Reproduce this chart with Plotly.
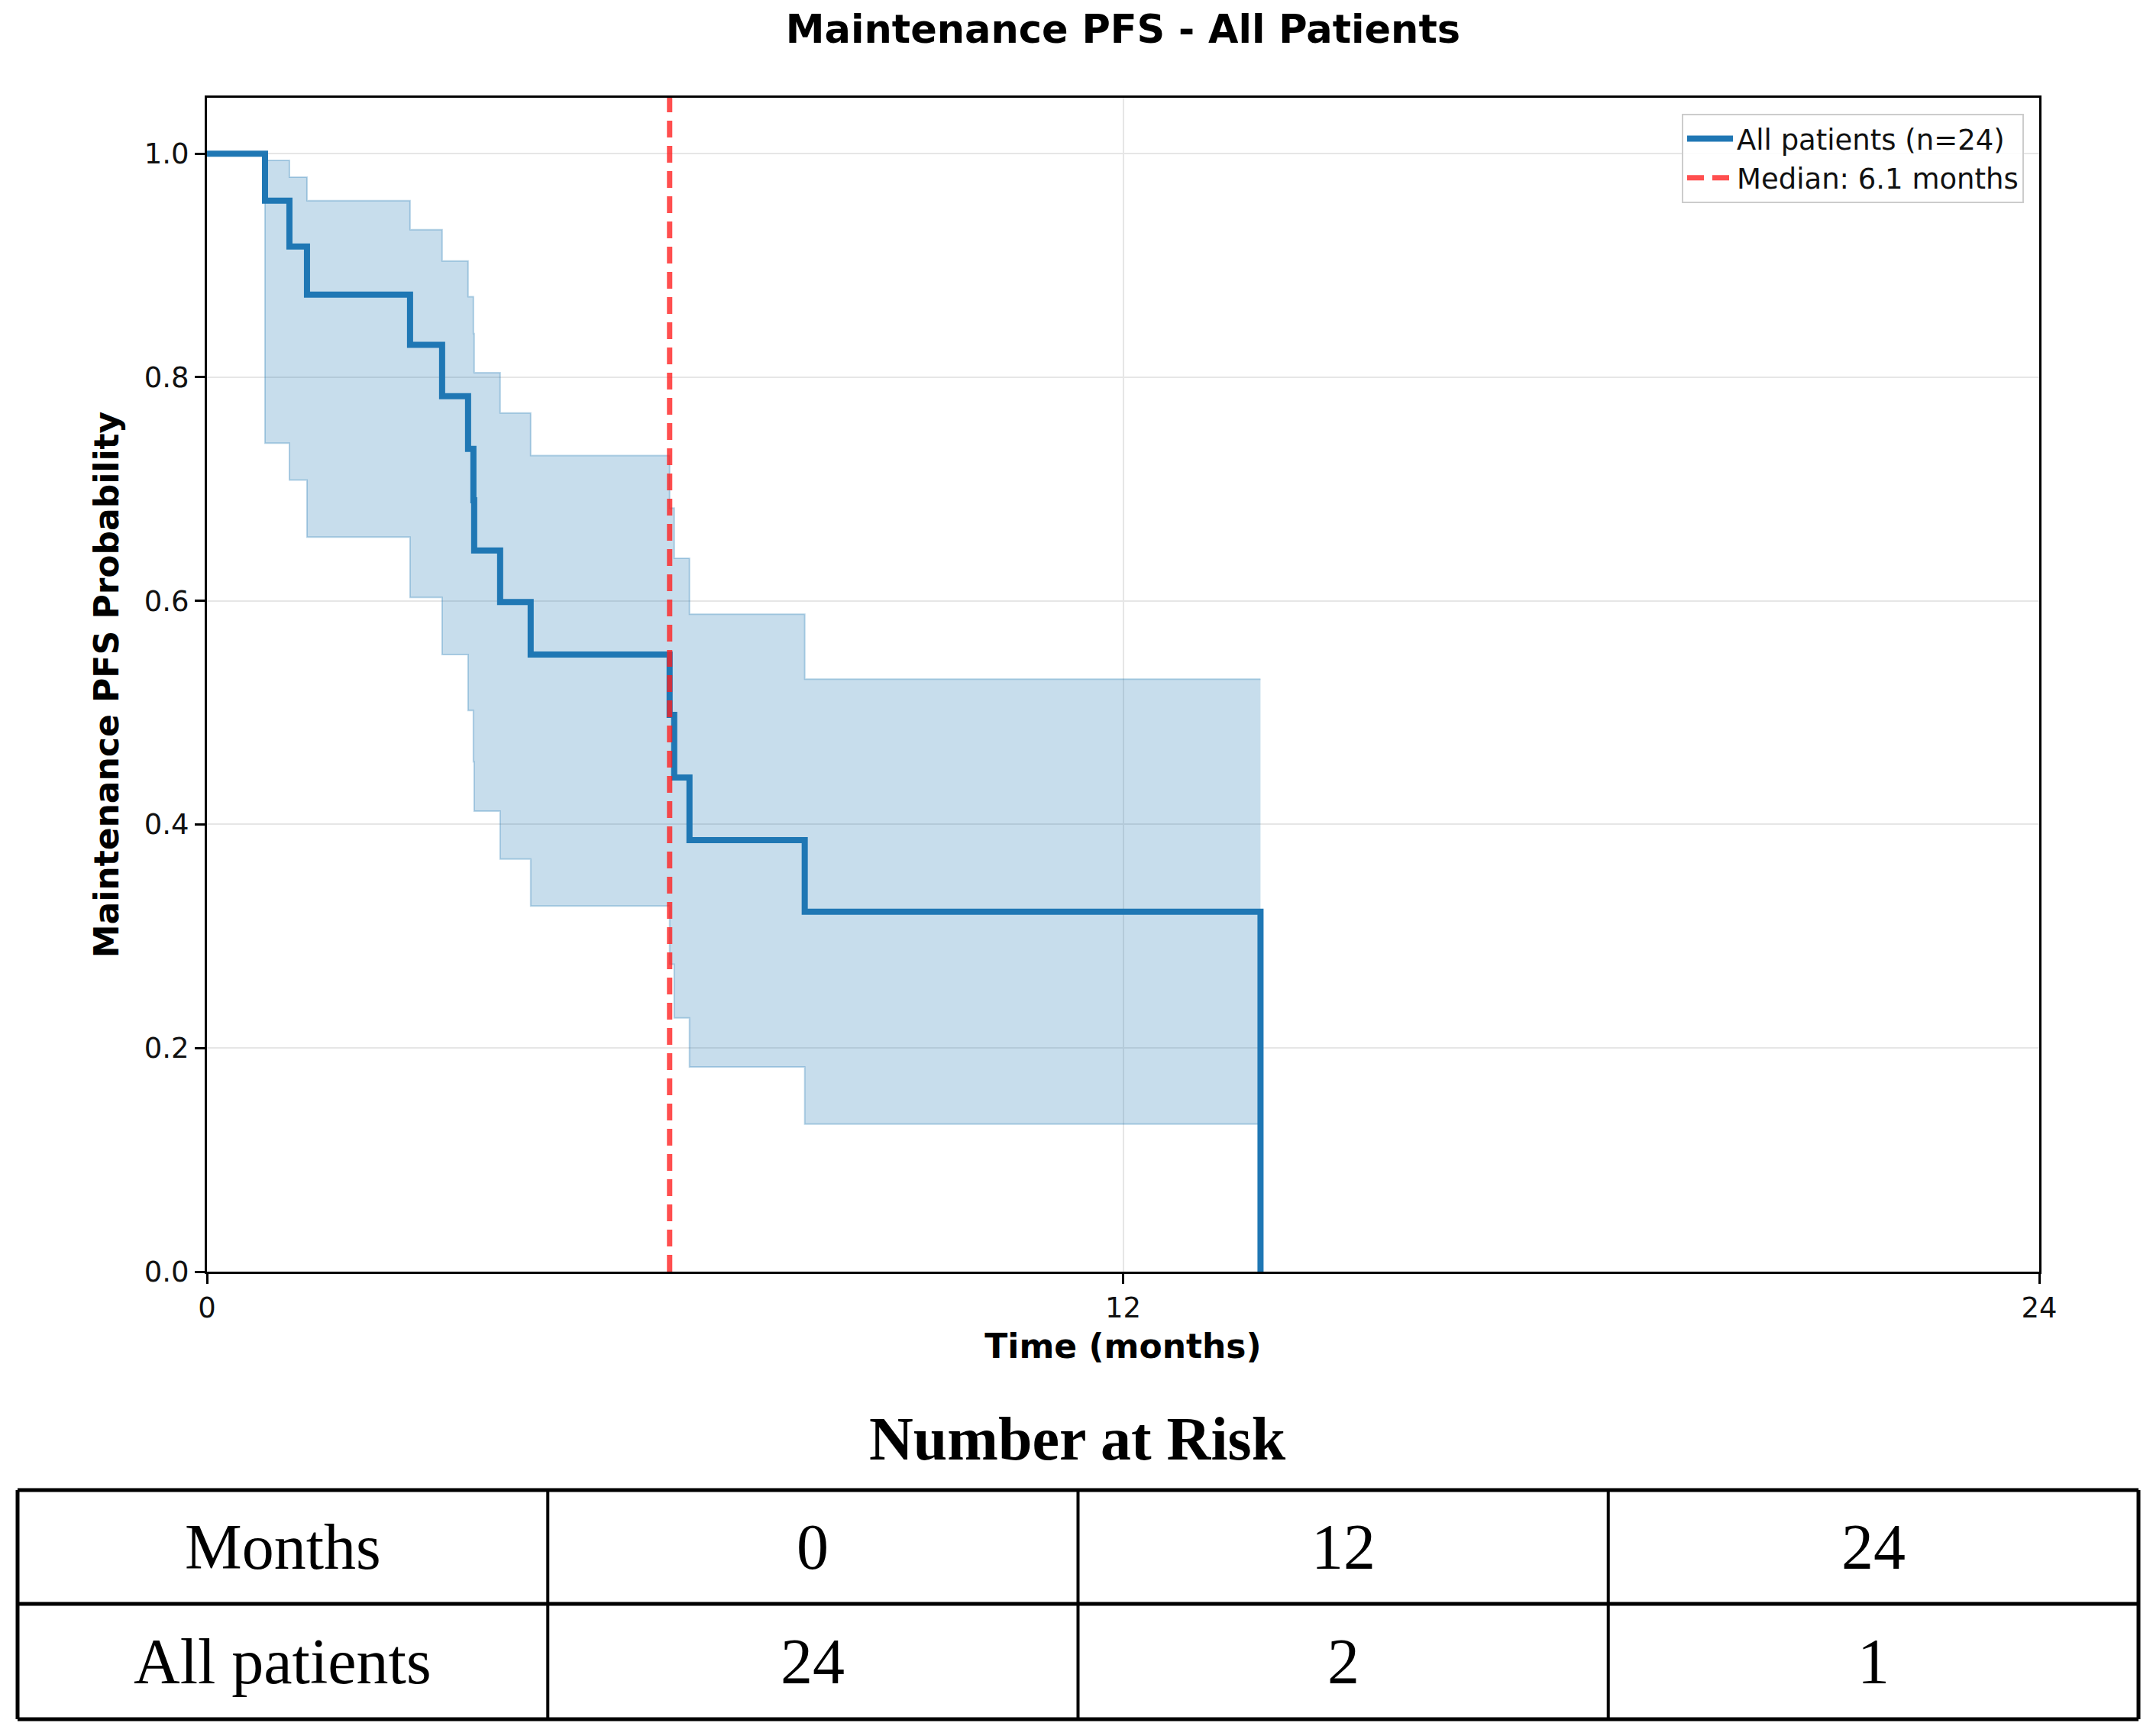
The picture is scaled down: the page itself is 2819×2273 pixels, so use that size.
import plotly.graph_objects as go

# ---------------- data ----------------
times = [0, 0.76, 1.08, 1.31, 2.66, 3.08, 3.42, 3.49, 3.50, 3.84, 4.24, 6.06, 6.12, 6.32, 7.83, 13.8]
survival = [1.0, 0.958, 0.917, 0.874, 0.829, 0.783, 0.736, 0.690, 0.645, 0.599, 0.552, 0.498, 0.442, 0.386, 0.322, 0.0]
ci_upper = [1.0, 0.994, 0.979, 0.958, 0.932, 0.904, 0.872, 0.839, 0.804, 0.768, 0.730, 0.683, 0.638, 0.588, 0.530, 0.530]
ci_lower = [1.0, 0.741, 0.708, 0.657, 0.603, 0.552, 0.502, 0.456, 0.412, 0.369, 0.327, 0.275, 0.227, 0.183, 0.132, 0.132]
median_months = 6.06
n_patients = 24

risk_months = [0, 12, 24]
risk_counts = [24, 2, 1]
risk_row_labels = ["Months", "All patients"]

x_ticks = [0, 12, 24]
y_ticks = [0.0, 0.2, 0.4, 0.6, 0.8, 1.0]

# ---------------- layout constants ----------------
W, H = 2819, 2273
ML, MR, MT, MB = 271, 149, 128, 608
PW, PH = W - ML - MR, H - MT - MB

def px_x(x):
    return (x - ML) / PW

def px_y(y):
    return (H - MB - y) / PH

BLUE = "#1f77b4"
BAND = "rgba(31,119,180,0.25)"
BAND_EDGE = "rgba(31,119,180,0.30)"
RED = "rgba(255,30,30,0.78)"

fig = go.Figure()

# CI band
fig.add_trace(go.Scatter(x=times, y=ci_upper, mode="lines", line=dict(shape="hv", color=BAND_EDGE, width=2),
                         showlegend=False, hoverinfo="skip"))
fig.add_trace(go.Scatter(x=times, y=ci_lower, mode="lines", line=dict(shape="hv", color=BAND_EDGE, width=2),
                         fill="tonexty", fillcolor=BAND, showlegend=False, hoverinfo="skip"))

# KM curve
fig.add_trace(go.Scatter(x=times, y=survival, mode="lines", line=dict(shape="hv", color=BLUE, width=8),
                         name=f"All patients (n={n_patients})"))

# Median line
fig.add_trace(go.Scatter(x=[median_months, median_months], y=[0, 1.05], mode="lines",
                         line=dict(color=RED, width=7, dash="22px,11px"),
                         name=f"Median: {median_months:.1f} months"))

axis_common = dict(
    showline=True, linecolor="black", linewidth=3, mirror=True,
    ticks="outside", ticklen=13, tickwidth=3, tickcolor="black",
    showgrid=True, gridcolor="#e6e6e6", gridwidth=2, zeroline=False,
    tickfont=dict(family="DejaVu Sans", size=37, color="#111111"),
)

fig.update_layout(
    width=W, height=H,
    margin=dict(l=ML, r=MR, t=MT, b=MB, autoexpand=False),
    paper_bgcolor="white", plot_bgcolor="white",
    title=dict(text="<b>Maintenance PFS - All Patients</b>", x=0.5, xref="paper", xanchor="center",
               y=1 - 38 / H, yref="container", yanchor="middle",
               font=dict(family="DejaVu Sans", size=51, color="black")),
    xaxis=dict(range=[0, 24], tickvals=x_ticks, ticktext=[str(v) for v in x_ticks],
               title=dict(text="<b>Time (months)</b>", standoff=14,
                          font=dict(family="DejaVu Sans", size=44, color="black")),
               **axis_common),
    yaxis=dict(range=[0, 1.05], tickvals=y_ticks, ticktext=[f"{v:.1f}" for v in y_ticks],
               title=dict(text="<b>Maintenance PFS Probability</b>", standoff=20,
                          font=dict(family="DejaVu Sans", size=44, color="black")),
               **axis_common),
    legend=dict(x=px_x(2650), xanchor="right", y=px_y(149), yanchor="top",
                traceorder="normal",
                bgcolor="rgba(255,255,255,0.85)", bordercolor="#cccccc", borderwidth=2,
                font=dict(family="DejaVu Sans", size=37, color="#111111"),
                itemwidth=60, tracegroupgap=4),
    showlegend=True,
)

# ---------------- Number at risk table ----------------
SERIF = "Liberation Serif"
fig.add_annotation(x=px_x(1411), y=px_y(1884), xref="paper", yref="paper", text="<b>Number at Risk</b>",
                   showarrow=False, xanchor="center", yanchor="middle",
                   font=dict(family=SERIF, size=80, color="black"))

tbl_left, tbl_right = 23, 2800
row_edges = [1951, 2100, 2251]
n_cols = len(risk_months) + 1
col_w = (tbl_right - tbl_left) / n_cols
col_edges = [tbl_left + i * col_w for i in range(n_cols + 1)]

for y in row_edges:
    fig.add_shape(type="line", xref="paper", yref="paper",
                  x0=px_x(tbl_left), x1=px_x(tbl_right), y0=px_y(y), y1=px_y(y),
                  line=dict(color="black", width=5))
for i, x in enumerate(col_edges):
    fig.add_shape(type="line", xref="paper", yref="paper",
                  x0=px_x(x), x1=px_x(x), y0=px_y(row_edges[0]), y1=px_y(row_edges[-1]),
                  line=dict(color="black", width=5 if i in (0, n_cols) else 4))

rows = [
    [risk_row_labels[0]] + [str(m) for m in risk_months],
    [risk_row_labels[1]] + [str(c) for c in risk_counts],
]
for r, row in enumerate(rows):
    yc = (row_edges[r] + row_edges[r + 1]) / 2
    for c, txt in enumerate(row):
        xc = (col_edges[c] + col_edges[c + 1]) / 2
        fig.add_annotation(x=px_x(xc), y=px_y(yc), xref="paper", yref="paper", text=txt,
                           showarrow=False, xanchor="center", yanchor="middle",
                           font=dict(family=SERIF, size=84, color="black"))

fig.write_html("out.html")
